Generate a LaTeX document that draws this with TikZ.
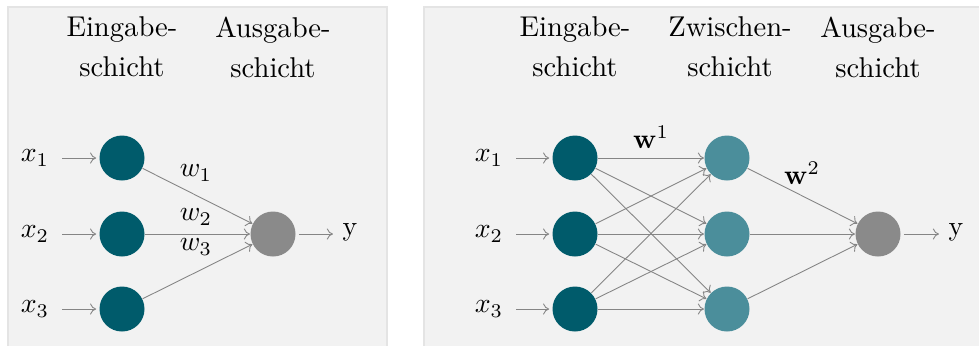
\documentclass[tikz,border=0pt]{standalone}
\usetikzlibrary{arrows.meta}
\definecolor{inC}{HTML}{005B6B}
\definecolor{hidC}{HTML}{4B8E9B}
\definecolor{outC}{HTML}{8A8A8A}
\definecolor{panelC}{HTML}{F2F2F2}
\definecolor{panelB}{HTML}{E4E4E4}
\definecolor{lineC}{HTML}{858585}
\tikzset{
  panel/.style={fill=panelC, draw=panelB, line width=0.4pt},
  neuron/.style={circle, minimum size=16.2pt, inner sep=0pt, draw=none},
  inN/.style={neuron, fill=inC},
  hidN/.style={neuron, fill=hidC},
  outN/.style={neuron, fill=outC},
  conn/.style={draw=lineC, line width=0.32pt, -{To[length=2.2pt,width=4pt]}},
  inlabel/.style={inner xsep=4.5pt, inner ysep=2pt},
  outlabel/.style={inner xsep=3.3pt},
  header/.style={align=center, font=\fontsize{10.3}{14.4}\selectfont},
  wlabel/.style={inner sep=1pt}
}
\begin{document}
\begin{tikzpicture}[x=0.36pt, y=-0.36pt]
\useasboundingbox (0,0) rectangle (979,345);
\fill[white] (0,0) rectangle (979,345);
% panels
\path[panel] (8,7) rectangle (387,360);
\path[panel] (424,7) rectangle (990,360);

% ---------- left panel ----------
\node[header] (hL1) at (122,47) {Eingabe-\\schicht};
\node[header] (hL2) at (273,47) {Ausgabe-\\schicht};

\node[inN] (a1) at (122,158) {};
\node[inN] (a2) at (122,234) {};
\node[inN] (a3) at (122,309) {};
\node[outN] (ao) at (273,234) {};

\node[inlabel] (xa1) at (35,158) {$x_1$};
\node[inlabel] (xa2) at (35,234) {$x_2$};
\node[inlabel] (xa3) at (35,309) {$x_3$};
\node[outlabel] (ya) at (350,232) {y};

\draw[conn, shorten >=1pt] (xa1) -- (a1);
\draw[conn, shorten >=1pt] (xa2) -- (a2);
\draw[conn, shorten >=1pt] (xa3) -- (a3);
\draw[conn] (a1) -- (ao);
\draw[conn] (a2) -- (ao);
\draw[conn] (a3) -- (ao);
\draw[conn, shorten <=1pt] (ao) -- (ao -| ya.west);

\node[wlabel] (w1) at (196,173) {$w_1$};
\node[wlabel] (w2) at (196,217) {$w_2$};
\node[wlabel] (w3) at (196,247) {$w_3$};

% ---------- right panel ----------
\node[header] (hR1) at (575,47) {Eingabe-\\schicht};
\node[header] (hR2) at (730,47) {Zwischen-\\schicht};
\node[header] (hR3) at (878,47) {Ausgabe-\\schicht};

\node[inN] (b1) at (575,158) {};
\node[inN] (b2) at (575,234) {};
\node[inN] (b3) at (575,309) {};
\node[hidN] (h1) at (727,158) {};
\node[hidN] (h2) at (727,234) {};
\node[hidN] (h3) at (727,309) {};
\node[outN] (bo) at (878,234) {};

\node[inlabel] (xb1) at (489,158) {$x_1$};
\node[inlabel] (xb2) at (489,234) {$x_2$};
\node[inlabel] (xb3) at (489,309) {$x_3$};
\node[outlabel] (yb) at (956,232) {y};

\draw[conn, shorten >=1pt] (xb1) -- (b1);
\draw[conn, shorten >=1pt] (xb2) -- (b2);
\draw[conn, shorten >=1pt] (xb3) -- (b3);
\foreach \i in {1,2,3}{
  \foreach \j in {1,2,3}{
    \draw[conn] (b\i) -- (h\j);
  }
  \draw[conn] (h\i) -- (bo);
}
\draw[conn, shorten <=1pt] (bo) -- (bo -| yb.west);

\node[wlabel] (W1) at (651,137) {$\mathbf{w}^1$};
\node[wlabel] (W2) at (802,173) {$\mathbf{w}^2$};
\end{tikzpicture}
\end{document}
